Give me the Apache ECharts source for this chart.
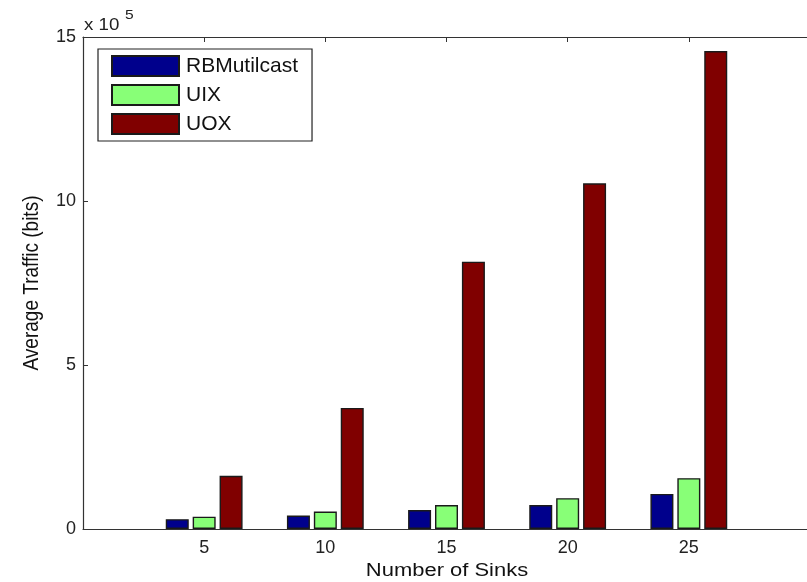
<!DOCTYPE html>
<html>
<head>
<meta charset="utf-8">
<script src="https://cdn.jsdelivr.net/npm/echarts@6/dist/echarts.min.js"></script>
<style>
html,body{margin:0;padding:0;background:#fff;}
#chart{width:807px;height:582px;}
</style>
</head>
<body>
<div id="chart"></div>
<script>
var sinks = [5, 10, 15, 20, 25];
var rbMulticast = [30000, 41000, 58000, 73000, 107000];
var uix = [37500, 53000, 73000, 94000, 155000];
var uox = [162000, 369000, 815000, 1054000, 1457000];
var yTicks = [0, 5, 10, 15];
var seriesNames = ['RBMutilcast', 'UIX', 'UOX'];

var FONT = '"Liberation Sans", Arial, sans-serif';
var AX = '#333333';

function pairs(vals) {
  return sinks.map(function (s, i) { return [s, vals[i]]; });
}
function barSeries(name, vals, color) {
  return {
    name: name,
    type: 'bar',
    data: pairs(vals),
    barWidth: 23,
    barGap: '17%',
    itemStyle: { color: color, borderColor: '#1a1a1a', borderWidth: 1.4 },
    emphasis: { disabled: true }
  };
}

var chart = echarts.init(document.getElementById('chart'));
chart.setOption({
  animation: false,
  backgroundColor: '#fff',
  grid: { left: 83, top: 37, width: 727, height: 492, containLabel: false, outerBoundsMode: 'none' },
  legend: {
    orient: 'vertical',
    left: 98, top: 49,
    icon: 'rect',
    itemWidth: 67, itemHeight: 20, itemGap: 7,
    padding: [6, 14, 6, 13],
    borderColor: '#222', borderWidth: 1.2,
    backgroundColor: '#fff',
    textStyle: { fontFamily: FONT, fontSize: 21, color: '#111', lineHeight: 20, padding: [0, 0, 0, 2] },
    data: seriesNames
  },
  xAxis: [{
    type: 'value', min: 0, max: 30, interval: 5,
    axisLine: { lineStyle: { color: AX, width: 1.2 } },
    axisTick: { inside: true, length: 5, lineStyle: { color: AX } },
    axisLabel: {
      fontFamily: FONT, fontSize: 18, color: '#222', margin: 10,
      formatter: function (v) { return (v > 0 && v < 30) ? String(v) : ''; }
    },
    splitLine: { show: false }
  }, {
    type: 'value', min: 0, max: 30, interval: 5, position: 'top',
    axisLine: { show: true, lineStyle: { color: AX, width: 1.2 } },
    axisTick: { inside: true, length: 5, lineStyle: { color: AX } },
    axisLabel: { show: false },
    splitLine: { show: false }
  }],
  yAxis: [{
    type: 'value', min: 0, max: 1500000, interval: 500000,
    axisLine: { show: true, lineStyle: { color: AX, width: 1.2 } },
    axisTick: { show: true, inside: true, length: 5, lineStyle: { color: AX } },
    axisLabel: {
      fontFamily: FONT, fontSize: 18, color: '#222', margin: 7,
      formatter: function (v) { return String(yTicks[Math.round(v / 500000)]); }
    },
    splitLine: { show: false }
  }],
  graphic: [{
    type: 'text', x: 447, y: 571, scaleX: 1.22,
    style: { text: 'Number of Sinks', font: '18px ' + FONT, fill: '#111', align: 'center', verticalAlign: 'middle' }
  }, {
    type: 'text', x: 32, y: 283, rotation: Math.PI / 2, scaleY: 1.15,
    style: { text: 'Average Traffic (bits)', font: '19px ' + FONT, fill: '#111', align: 'center', verticalAlign: 'middle' }
  }, {
    type: 'text', x: 84, y: 25, scaleX: 1.1,
    style: { text: 'x 10', font: '17px ' + FONT, fill: '#222', align: 'left', verticalAlign: 'middle' }
  }, {
    type: 'text', x: 125, y: 15, scaleX: 1.2,
    style: { text: '5', font: '13px ' + FONT, fill: '#222', align: 'left', verticalAlign: 'middle' }
  }],
  series: [
    barSeries(seriesNames[0], rbMulticast, '#00008c'),
    barSeries(seriesNames[1], uix, '#88ff77'),
    barSeries(seriesNames[2], uox, '#800000')
  ]
});
</script>
</body>
</html>
